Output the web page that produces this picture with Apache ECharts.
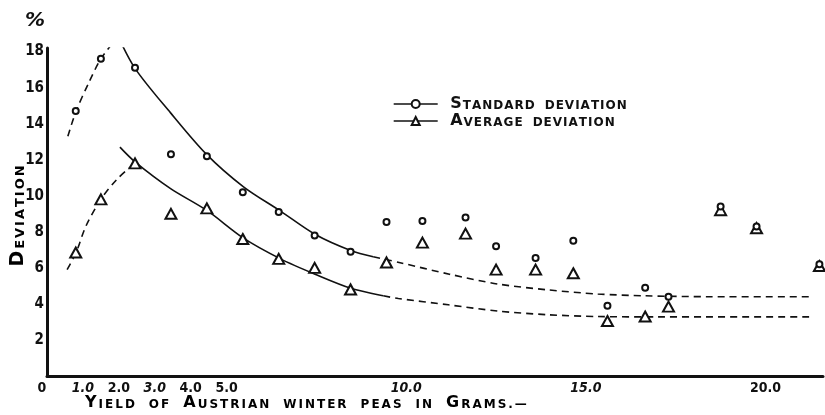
<!DOCTYPE html>
<html>
<head>
<meta charset="utf-8">
<script src="https://cdn.jsdelivr.net/npm/echarts@6/dist/echarts.min.js"></script>
<style>
    html, body { margin: 0; padding: 0; background: #fff; }
    #chart { width: 825px; height: 415px; }
</style>
</head>
<body>
<div id="chart"></div>
<script>
// measured points (yield in grams, deviation in %)
const xValues = [0.8, 1.5, 2.45, 3.45, 4.45, 5.45, 6.45, 7.45, 8.45, 9.45, 10.45, 11.65, 12.5, 13.6, 14.65, 15.6, 16.65, 17.3, 18.75, 19.75, 21.5];
const stdValues = [14.7, 17.6, 17.1, 12.3, 12.2, 10.2, 9.1, 7.8, 6.9, 8.55, 8.6, 8.8, 7.2, 6.55, 7.5, 3.9, 4.9, 4.4, 9.4, 8.3, 6.2];
const avgValues = [6.85, 9.8, 11.8, 9.0, 9.3, 7.6, 6.5, 6.0, 4.8, 6.3, 7.4, 7.9, 5.9, 5.9, 5.7, 3.05, 3.3, 3.85, 9.2, 8.2, 6.1];

// hand drawn curves
const stdRiseX = [0.58, 0.81, 1.17, 1.5, 1.92];
const stdRiseY = [13.3, 14.7, 16.3, 17.6, 18.7];
const stdFallX = [1.92, 2.44, 3.44, 4.44, 5.47, 6.5, 7.47, 8.47, 9.08];
const stdFallY = [19.1, 17.1, 14.6, 12.3, 10.5, 9.15, 7.85, 6.95, 6.62];
const stdTailX = [9.08, 9.8, 11.2, 12.56, 13.94, 15.33, 16.64, 18.5, 21.3];
const stdTailY = [6.62, 6.3, 5.65, 5.1, 4.78, 4.55, 4.45, 4.4, 4.4];

const avgRiseX = [0.56, 0.81, 1.08, 1.5, 1.94, 2.44];
const avgRiseY = [5.9, 6.85, 8.3, 9.8, 10.9, 11.8];
const avgFallX = [2.03, 2.44, 3.44, 4.44, 5.47, 6.5, 7.46, 8.48, 9.36];
const avgFallY = [12.7, 11.9, 10.4, 9.2, 7.65, 6.5, 5.65, 4.85, 4.45];
const avgTailX = [9.36, 9.78, 11.17, 12.56, 13.94, 15.33, 17.0, 21.25];
const avgTailY = [4.45, 4.3, 3.95, 3.6, 3.4, 3.3, 3.28, 3.28];

const xLabels = [0, 1, 2, 3, 4, 5, 10, 15, 20];
const xItalic = [1, 3, 10, 15];
const yLabels = [2, 4, 6, 8, 10, 12, 14, 16, 18];

const FONT = 'DejaVu Sans';

function pairs (xs, ys) {
    return xs.map((x, i) => [x, ys[i]]);
}

// capitals big, lower case as small capitals, one token per letter
function smallCaps (str) {
    return str.split('').map((ch) => {
        if (ch === ' ') return '{w| }';
        if (ch >= 'A' && ch <= 'Z') return '{b|' + ch + '}';
        return '{s|' + ch.toUpperCase() + '}';
    }).join('');
}

function capsRich (big, small, pad, gap) {
    return {
        b: {fontFamily: FONT, fontWeight: 'bold', fontSize: big, lineHeight: big, color: '#111', padding: [0, pad], verticalAlign: 'bottom'},
        s: {fontFamily: FONT, fontWeight: 'bold', fontSize: small, lineHeight: big, color: '#111', padding: [0, pad], verticalAlign: 'bottom'},
        w: {fontFamily: FONT, fontSize: small, lineHeight: big, width: gap, verticalAlign: 'bottom'}
    };
}

function curve (xs, ys, dashed) {
    return {
        type: 'line',
        data: pairs(xs, ys),
        smooth: 0.3,
        symbol: 'none',
        silent: true,
        z: 2,
        lineStyle: {color: '#111', width: 1.6, type: dashed ? [7, 5] : 'solid'}
    };
}

let myChart = echarts.init(document.getElementById('chart'));
myChart.setOption({
    backgroundColor: '#fff',
    animation: false,
    grid: {left: 47, right: 2, top: 48, bottom: 39},
    legend: {
        orient: 'vertical',
        left: 388,
        top: 91,
        itemWidth: 44,
        itemHeight: 10,
        itemGap: 1,
        data: ['Standard deviation', 'Average deviation'],
        lineStyle: {color: '#111', width: 1.4, opacity: 1},
        formatter: (name) => smallCaps(name),
        textStyle: {padding: [0, 0, 0, 7], rich: capsRich(16, 12, 0.5, 9)}
    },
    xAxis: {
        type: 'value',
        min: 0,
        max: 21.6,
        interval: 1,
        axisLine: {lineStyle: {color: '#111', width: 3}},
        axisTick: {show: false},
        splitLine: {show: false},
        axisLabel: {
            margin: 5,
            showMaxLabel: false,
            fontFamily: 'DejaVu Sans Condensed',
            fontWeight: 'bold',
            fontSize: 14,
            color: '#111',
            formatter: (v) => {
                if (xLabels.indexOf(v) < 0) return '';
                if (v === 0) return '{z|0}';
                return xItalic.indexOf(v) >= 0 ? '{i|' + v.toFixed(1) + '}' : v.toFixed(1);
            },
            rich: {
                i: {fontFamily: 'DejaVu Sans Condensed', fontWeight: 'bold', fontStyle: 'italic', fontSize: 14, color: '#111'},
                z: {fontFamily: 'DejaVu Sans Condensed', fontWeight: 'bold', fontSize: 14, color: '#111', padding: [0, 10, 0, 0]}
            }
        }
    },
    yAxis: {
        type: 'value',
        min: 0,
        max: 18.2,
        interval: 2,
        axisLine: {show: true, lineStyle: {color: '#111', width: 3}},
        axisTick: {show: false},
        splitLine: {show: false},
        axisLabel: {
            margin: 3,
            showMaxLabel: false,
            fontFamily: 'DejaVu Sans Condensed',
            fontWeight: 'bold',
            fontSize: 15,
            color: '#111',
            formatter: (v) => (yLabels.indexOf(v) >= 0 ? String(v) : '')
        }
    },
    graphic: [
        {
            type: 'text',
            left: 25,
            top: 11,
            style: {text: '%', fontFamily: FONT, fontWeight: 'bold', fontStyle: 'italic', fontSize: 20, fill: '#111'}
        },
        {
            type: 'text',
            x: 18,
            y: 216,
            rotation: Math.PI / 2,
            style: {
                text: smallCaps('Deviation'),
                rich: capsRich(19, 13, 1, 8),
                align: 'center',
                verticalAlign: 'middle'
            }
        },
        {
            type: 'text',
            left: 84,
            top: 395,
            style: {
                text: smallCaps('Yield of Austrian winter peas in Grams.—'),
                rich: capsRich(16, 12, 1, 12)
            }
        }
    ],
    series: [
        curve(stdRiseX, stdRiseY, true),
        curve(stdFallX, stdFallY, false),
        curve(stdTailX, stdTailY, true),
        curve(avgRiseX, avgRiseY, true),
        curve(avgFallX, avgFallY, false),
        curve(avgTailX, avgTailY, true),
        {
            name: 'Average deviation',
            type: 'line',
            data: pairs(xValues, avgValues),
            symbol: 'emptyTriangle',
            symbolSize: [11, 10],
            showAllSymbol: true,
            z: 3,
            lineStyle: {width: 0, opacity: 0},
            itemStyle: {color: '#111', borderColor: '#111', borderWidth: 2}
        },
        {
            name: 'Standard deviation',
            type: 'line',
            data: pairs(xValues, stdValues),
            symbol: 'emptyCircle',
            symbolSize: 6,
            showAllSymbol: true,
            z: 4,
            lineStyle: {width: 0, opacity: 0},
            itemStyle: {color: '#111', borderColor: '#111', borderWidth: 1.2}
        }
    ]
});
</script>
</body>
</html>
